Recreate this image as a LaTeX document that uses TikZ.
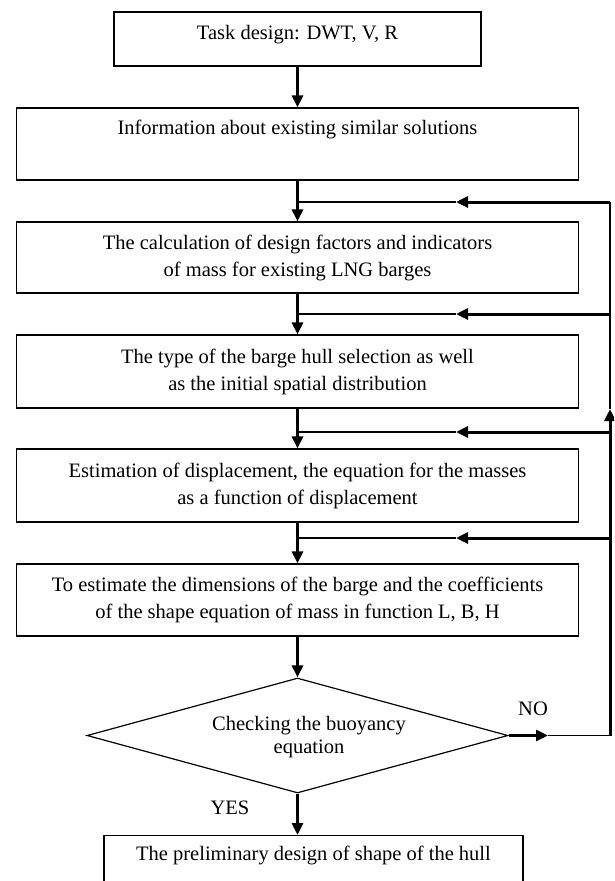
\documentclass[tikz,border=0pt]{standalone}
\usepackage{fontspec}
\setmainfont{Liberation Serif}
\usetikzlibrary{arrows.meta,shapes.geometric}
\begin{document}
\begin{tikzpicture}[x=1pt,y=-1pt,
  every node/.style={font=\fontsize{20.5}{27}\selectfont},
  procbox/.style={draw, line width=1.2pt, minimum width=562pt, inner sep=0pt},
  flow/.style={line width=3pt, -{Triangle[length=12pt,width=11pt]}},
  thinln/.style={line width=1.1pt},
  lbl/.style={inner sep=0pt}]
\useasboundingbox (0,0) rectangle (614,881);
\clip (0,0) rectangle (614,881);

% boxes
\node[procbox, minimum width=367pt, text height=27pt, text depth=27pt] (t) at (297.5,39) {Task design: DWT, V, R};
\node[procbox, text height=26pt, text depth=46pt] (b2) at (297.5,144) {Information about existing similar solutions};
\node[procbox, align=center, minimum height=71pt] (b3) at (297.5,257.5) {The calculation of design factors and indicators\\of mass for existing LNG barges};
\node[procbox, align=center, minimum height=73pt] (b4) at (297.5,371.5) {The type of the barge hull selection as well\\as the initial spatial distribution};
\node[procbox, align=center, minimum height=73pt] (b5) at (297.5,485.5) {Estimation of displacement, the equation for the masses\\as a function of displacement};
\node[procbox, align=center, minimum height=72pt] (b6) at (297.5,600) {To estimate the dimensions of the barge and the coefficients\\of the shape equation of mass in function L, B, H};
\node[draw, diamond, line width=1.2pt, minimum width=421pt, minimum height=115pt, inner sep=0pt] (d) at (297.5,735.5) {};
\node[font=\fontsize{20.5}{23}\selectfont, align=center, inner sep=0pt] (dt) at (309,737) {Checking the buoyancy\\equation};
\node[procbox, minimum width=419pt, text height=14pt, text depth=40pt, inner ysep=11pt, anchor=north] (f) at (313.5,835) {The preliminary design of shape of the hull};

% labels
\node[lbl] (no) at (533,709) {NO};
\node[lbl] (yes) at (230,808) {YES};

% main flow
\draw[flow] (t) -- (b2);
\draw[flow] (b2) -- (b3);
\draw[flow] (b3) -- (b4);
\draw[flow] (b4) -- (b5);
\draw[flow] (b5) -- (b6);
\draw[flow] (b6) -- (d);
\draw[flow] (d.south) -- (d.south |- f.north);

% feedback coordinates
\coordinate (m1) at (297.5,202); \coordinate (a1) at (456,202); \coordinate (r1) at (610,202);
\coordinate (m2) at (297.5,314); \coordinate (a2) at (456,314); \coordinate (r2) at (610,314);
\coordinate (m3) at (297.5,432); \coordinate (a3) at (456,432); \coordinate (r3) at (610,432);
\coordinate (m4) at (297.5,538); \coordinate (a4) at (456,538); \coordinate (r4) at (610,538);
\coordinate (up) at (610,409);
\coordinate (no1) at (548,735.5);
\coordinate (rn) at (610,735.5);

\draw[flow] (r1) -- (a1); \draw[thinln] (a1) -- (m1);
\draw[flow] (r2) -- (a2); \draw[thinln] (a2) -- (m2);
\draw[flow] (r3) -- (a3); \draw[thinln] (a3) -- (m3);
\draw[flow] (r4) -- (a4); \draw[thinln] (a4) -- (m4);

% return line
\draw[flow] (d.east) -- (no1);
\draw[thinln] (no1) -- (rn);
\draw[flow] (rn) -- (up);
\draw[thinln] (up) -- (r1);
\end{tikzpicture}
\end{document}
